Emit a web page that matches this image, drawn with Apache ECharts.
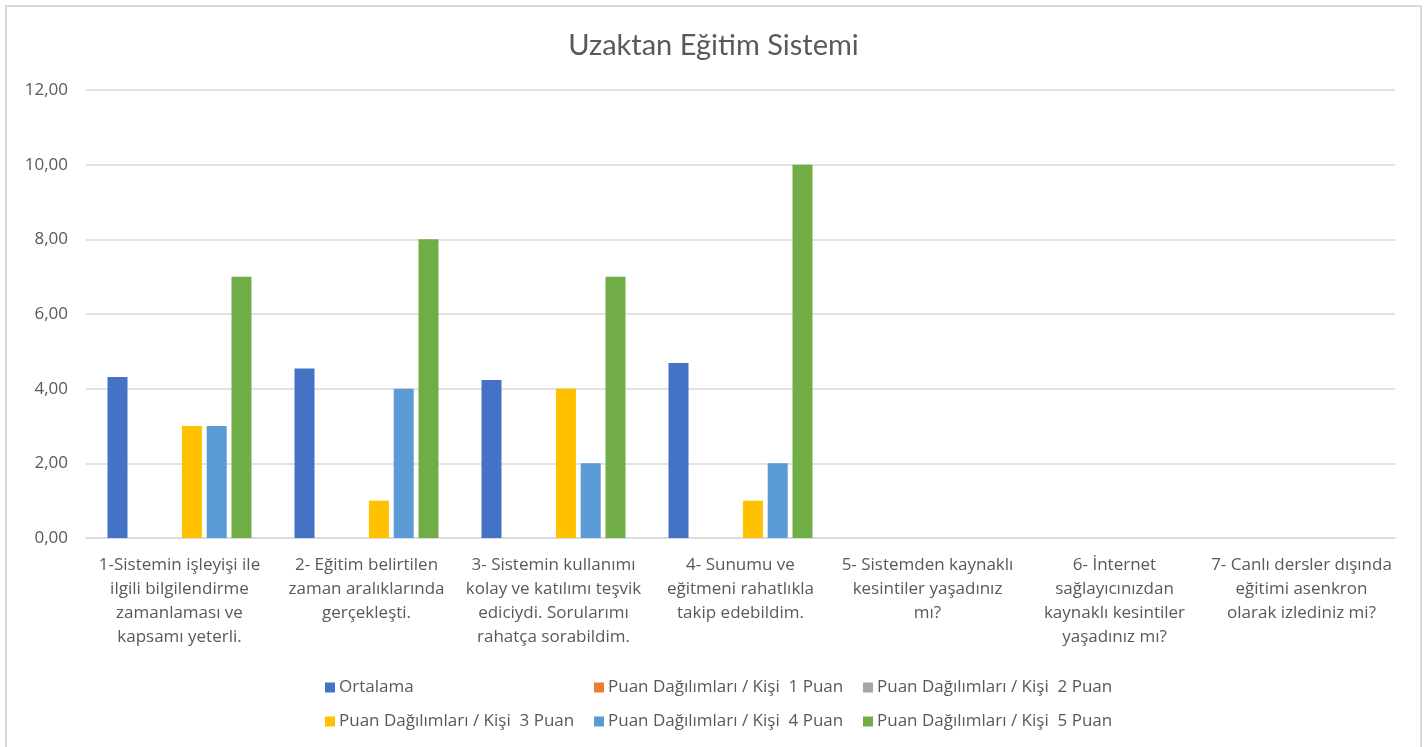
<!DOCTYPE html>
<html>
<head>
<meta charset="utf-8">
<script src="https://cdn.jsdelivr.net/npm/echarts@6/dist/echarts.min.js"></script>
<style>html,body{margin:0;padding:0;background:#fff}#c{width:1427px;height:747px}</style>
</head>
<body>
<div id="c"></div>
<script>
const categories = [
  "1-Sistemin işleyişi ile\nilgili bilgilendirme\nzamanlaması ve\nkapsamı yeterli.",
  "2- Eğitim belirtilen\nzaman aralıklarında\ngerçekleşti.",
  "3- Sistemin kullanımı\nkolay ve katılımı teşvik\nediciydi. Sorularımı\nrahatça sorabildim.",
  "4- Sunumu ve\neğitmeni rahatlıkla\ntakip edebildim.",
  "5- Sistemden kaynaklı\nkesintiler yaşadınız\nmı?",
  "6- İnternet\nsağlayıcınızdan\nkaynaklı kesintiler\nyaşadınız mı?",
  "7- Canlı dersler dışında\neğitimi asenkron\nolarak izlediniz mi?"
];
const seriesNames = [
  "Ortalama",
  "Puan Dağılımları / Kişi  1 Puan",
  "Puan Dağılımları / Kişi  2 Puan",
  "Puan Dağılımları / Kişi  3 Puan",
  "Puan Dağılımları / Kişi  4 Puan",
  "Puan Dağılımları / Kişi  5 Puan"
];
const ortalama = [4.31, 4.54, 4.23, 4.69, null, null, null];
const puan1 = [0, 0, 0, 0, null, null, null];
const puan2 = [0, 0, 0, 0, null, null, null];
const puan3 = [3, 1, 4, 1, null, null, null];
const puan4 = [3, 4, 2, 2, null, null, null];
const puan5 = [7, 8, 7, 10, null, null, null];
const yTicks = [0, 2, 4, 6, 8, 10, 12];

const colors = ["#4472C4", "#ED7D31", "#A5A5A5", "#FFC000", "#5B9BD5", "#70AD47"];
const values = [ortalama, puan1, puan2, puan3, puan4, puan5];
const font = "'Open Sans', Lato, sans-serif";
const textColor = "#595959";

const chart = echarts.init(document.getElementById('c'), null, {renderer: 'canvas'});
const legendCommon = {
  orient: 'vertical',
  top: 674,
  itemWidth: 10,
  itemHeight: 10,
  itemGap: 17,
  icon: 'rect',
  textStyle: {fontFamily: font, fontSize: 17, color: textColor, padding: [0, 0, 0, -1]},
  selectedMode: false
};
chart.setOption({
  color: colors,
  animation: false,
  graphic: [{
    type: 'rect',
    shape: {x: 6, y: 6, width: 1415, height: 745},
    style: {fill: 'none', stroke: '#D9D9D9', lineWidth: 2},
    silent: true
  }],
  title: {
    text: 'Uzaktan Eğitim Sistemi',
    left: 'center',
    top: 26,
    textStyle: {fontFamily: "Lato, sans-serif", fontSize: 29, fontWeight: 'normal', color: textColor}
  },
  legend: [
    Object.assign({}, legendCommon, {left: 320, data: [seriesNames[0], seriesNames[3]]}),
    Object.assign({}, legendCommon, {left: 589, data: [seriesNames[1], seriesNames[4]]}),
    Object.assign({}, legendCommon, {left: 858, data: [seriesNames[2], seriesNames[5]]})
  ],
  grid: {left: 86, right: 32, top: 90, bottom: 209, containLabel: false},
  xAxis: {
    type: 'category',
    data: categories,
    axisLine: {show: true, lineStyle: {color: '#D9D9D9', width: 1.5}},
    axisTick: {show: false},
    axisLabel: {
      interval: 0,
      fontFamily: font,
      fontSize: 17,
      color: textColor,
      lineHeight: 24,
      margin: 15,
      align: 'center'
    }
  },
  yAxis: {
    type: 'value',
    min: yTicks[0],
    max: yTicks[yTicks.length - 1],
    interval: 2,
    axisLine: {show: false},
    axisTick: {show: false},
    splitLine: {lineStyle: {color: '#D9D9D9', width: 1.5}},
    axisLabel: {
      fontFamily: font,
      fontSize: 17,
      color: textColor,
      margin: 18,
      formatter: v => v.toFixed(2).replace('.', ',')
    }
  },
  series: seriesNames.map((name, i) => ({
    name: name,
    type: 'bar',
    data: values[i],
    barWidth: 20,
    barGap: '24%',
    itemStyle: {color: colors[i]}
  }))
});
</script>
</body>
</html>
